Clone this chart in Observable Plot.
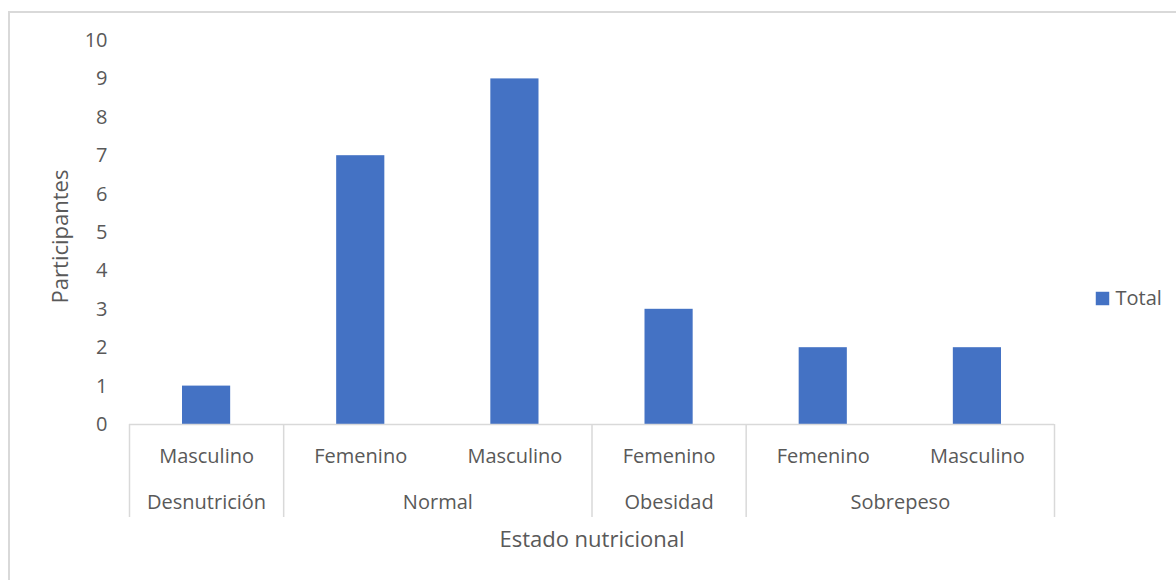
<!DOCTYPE html>
<html>
<head>
<meta charset="utf-8">
<script src="https://cdn.jsdelivr.net/npm/d3@7"></script>
<script src="https://cdn.jsdelivr.net/npm/@observablehq/plot@0.6"></script>
<style>
  html, body { margin: 0; padding: 0; background: #fff; overflow: hidden; }
  #wrap { position: relative; width: 1176px; height: 580px; }
  #border { position: absolute; left: 8px; top: 11px; width: 1400px; height: 800px;
            border-top: 2px solid #d9d9d9; border-left: 2px solid #d9d9d9; pointer-events: none; }
  svg { font-family: "Open Sans", sans-serif; }
</style>
</head>
<body>
<div id="wrap"><div id="border"></div></div>
<script>
// Data
const groups = ["Desnutrición", "Normal", "Normal", "Obesidad", "Sobrepeso", "Sobrepeso"];
const sexes = ["Masculino", "Femenino", "Masculino", "Femenino", "Femenino", "Masculino"];
const values = [1, 7, 9, 3, 2, 2];
const yTicks = [0, 1, 2, 3, 4, 5, 6, 7, 8, 9, 10];
const seriesName = "Total";
const xTitle = "Estado nutricional";
const yTitle = "Participantes";

const rows = values.map((v, i) => ({i, group: groups[i], sex: sexes[i], value: v}));
// group spans
const spans = [];
groups.forEach((g, i) => {
  const last = spans[spans.length - 1];
  if (last && last.group === g) last.end = i + 1;
  else spans.push({group: g, start: i, end: i + 1});
});
const boundaries = [0, ...spans.map(s => s.end)];

const W = 1176, H = 580, mL = 129, mR = 122, mT = 40, mB = 156;
const frameH = H - mT - mB;
const textColor = "#595959";
const barColor = "#4472C4";

const chart = Plot.plot({
  width: W, height: H,
  marginLeft: mL, marginRight: mR, marginTop: mT, marginBottom: mB,
  style: {fontFamily: "'Open Sans', sans-serif", fontSize: "20px", color: textColor, background: "transparent", overflow: "visible"},
  x: {domain: [0, values.length], axis: null},
  y: {domain: [0, 10], axis: null},
  marks: [
    Plot.rectY(rows, {x1: d => d.i, x2: d => d.i + 1, y: "value", fill: barColor, insetLeft: 53, insetRight: 53}),
    Plot.ruleY([0], {stroke: "#d9d9d9", strokeWidth: 1.5}),
    Plot.ruleX(boundaries, {x: d => d, stroke: "#d9d9d9", strokeWidth: 1.5, insetTop: frameH, insetBottom: -93}),
    Plot.axisY({ticks: yTicks, tickSize: 0, tickPadding: 22, fontSize: 20, label: null, fill: textColor, tickFormat: d => String(d)}),
    Plot.text(rows, {x: d => d.i + 0.5, y: 0, text: "sex", dy: 32, fill: textColor, fontSize: 20}),
    Plot.text(spans, {x: d => (d.start + d.end) / 2, y: 0, text: "group", dy: 78, fill: textColor, fontSize: 20}),
    Plot.text([xTitle], {frameAnchor: "bottom", dy: 122, text: d => d, fill: textColor, fontSize: 22}),
    Plot.text([yTitle], {frameAnchor: "left", dx: -69, dy: 4, rotate: -90, textAnchor: "middle", lineAnchor: "middle", text: d => d, fill: textColor, fontSize: 22}),
    Plot.dot([seriesName], {frameAnchor: "right", dx: 48, dy: 66, symbol: "square", r: 7.6, fill: barColor, stroke: null}),
    Plot.text([seriesName], {frameAnchor: "right", dx: 61, dy: 66, text: d => d, textAnchor: "start", fill: textColor, fontSize: 20})
  ]
});
document.getElementById("wrap").prepend(chart);
</script>
</body>
</html>
